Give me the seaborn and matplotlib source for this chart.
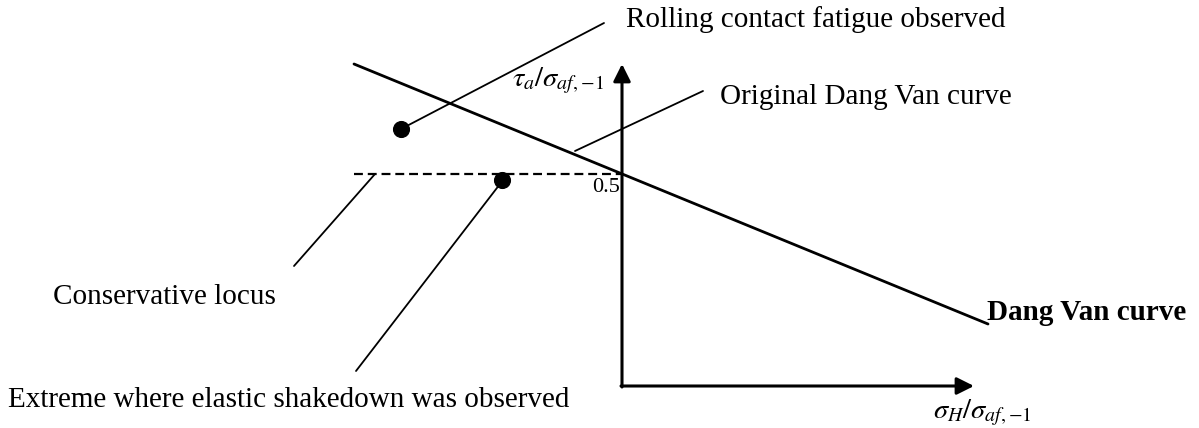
import matplotlib
matplotlib.use("Agg")
import numpy as np
import pandas as pd
import seaborn as sns
import matplotlib.pyplot as plt

# schematic coordinates (image-like units: x to the right, y downward)
dang_van_x = [354, 988]
dang_van_y = [64, 324]

locus_x = [354, 622]
locus_y = [174, 174]

points_x = [401, 502]
points_y = [129, 180]

# leader lines: (start x, start y, end x, end y)
leader_rcf = [401, 129, 604, 23]
leader_orig = [575, 151, 703, 91]
leader_locus = [375, 174, 294, 266]
leader_shake = [500, 184, 356, 371]

axis_origin = [622, 386]
x_axis_end = 974
y_axis_end = 64

sns.set_theme(style="white")
plt.rcParams['font.family'] = ['Liberation Serif', 'DejaVu Serif']
plt.rcParams['mathtext.fontset'] = 'stix'
plt.rcParams['text.color'] = 'black'

fig = plt.figure(figsize=(11.99, 4.28), dpi=100)
ax = fig.add_axes([0, 0, 1, 1])
ax.set_xlim(0, 1199)
ax.set_ylim(428, 0)
ax.axis('off')

# Dang Van curve
sns.lineplot(x=dang_van_x, y=dang_van_y, color='black', lw=2.0, ax=ax)
# conservative locus (dashed)
ax.plot(locus_x, locus_y, color='black', lw=1.6, dashes=(4, 2.2))
# observation points
sns.scatterplot(x=points_x, y=points_y, color='black', s=130, ax=ax, zorder=5, edgecolor='black')

# leader lines
for ld in [leader_rcf, leader_orig, leader_locus, leader_shake]:
    ax.plot([ld[0], ld[2]], [ld[1], ld[3]], color='black', lw=1.3)

# axes with arrows
ox, oy = axis_origin
ax.annotate('', xy=(x_axis_end, oy), xytext=(ox - 1, oy),
            arrowprops=dict(arrowstyle='-|>', color='black', lw=2.2, mutation_scale=26, shrinkA=0, shrinkB=0))
ax.annotate('', xy=(ox, y_axis_end), xytext=(ox, oy + 1),
            arrowprops=dict(arrowstyle='-|>', color='black', lw=2.2, mutation_scale=26, shrinkA=0, shrinkB=0))

fs = 21
ax.text(626, 20, 'Rolling contact fatigue observed', fontsize=fs, va='center', ha='left')
ax.text(720, 97, 'Original Dang Van curve', fontsize=fs, va='center', ha='left')
ax.text(53, 297, 'Conservative locus', fontsize=fs, va='center', ha='left')
ax.text(8, 400, 'Extreme where elastic shakedown was observed', fontsize=fs, va='center', ha='left')
ax.text(987, 313, 'Dang Van curve', fontsize=fs, va='center', ha='left', fontweight='bold')
ax.text(620, 187, '0.5', fontsize=16, va='center', ha='right')
ax.text(512, 81, r'$\tau_a/\sigma_{af,{-}1}$', fontsize=20.5, va='center', ha='left')
ax.text(933, 413, r'$\sigma_H/\sigma_{af,{-}1}$', fontsize=20.5, va='center', ha='left')

fig.savefig('out.png', dpi=100)
